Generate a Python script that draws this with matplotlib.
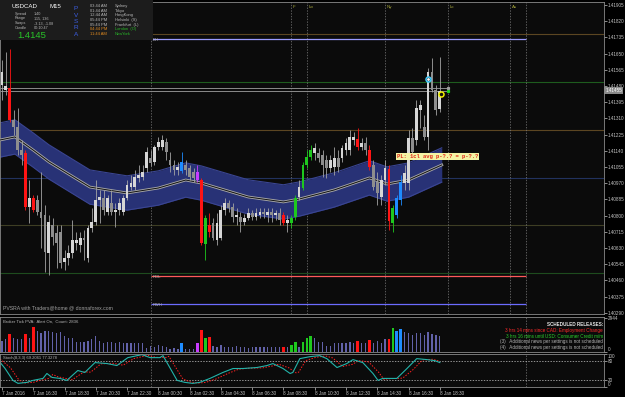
import matplotlib.pyplot as plt
import matplotlib.transforms as mtransforms
from matplotlib.patches import Rectangle
import numpy as np

plt.rcParams["font.family"] = ["Liberation Sans", "DejaVu Sans"]

# USDCAD M15 candles, bar 0 = 7 Jan 14:30
opens = [1.41485, 1.41459, 1.41470, 1.41302, 1.41265, 1.41144, 1.41129, 1.40846, 1.40893, 1.40882,
         1.40819, 1.40804, 1.40604, 1.40751, 1.40709, 1.40714, 1.40557, 1.40578, 1.40604, 1.40657,
         1.40646, 1.40683, 1.40578, 1.40735, 1.40767, 1.40882, 1.40893, 1.40819, 1.40866, 1.40819,
         1.40830, 1.40819, 1.40893, 1.40950, 1.40950, 1.40998, 1.41003, 1.41050, 1.41102, 1.41082,
         1.41160, 1.41160, 1.41186, 1.41092, 1.41066, 1.41040, 1.41034, 1.41066, 1.41050, 1.41029,
         1.41029, 1.40987, 1.40651, 1.40751, 1.40762, 1.40672, 1.40683, 1.40830, 1.40866, 1.40846,
         1.40793, 1.40793, 1.40767, 1.40788, 1.40814, 1.40793, 1.40804, 1.40819, 1.40804, 1.40819,
         1.40804, 1.40814, 1.40804, 1.40762, 1.40762, 1.40793, 1.40898, 1.40945, 1.41066, 1.41108,
         1.41129, 1.41129, 1.41118, 1.41092, 1.41050, 1.41055, 1.41102, 1.41102, 1.41144, 1.41144,
         1.41197, 1.41202, 1.41160, 1.41181, 1.41144, 1.41066, 1.40977, 1.40898, 1.40987, 1.41045,
         1.40762, 1.40804, 1.40882, 1.40971, 1.40971, 1.41207, 1.41197, 1.41354, 1.41265, 1.41213,
         1.41553, 1.41459, 1.41359]
highs = [1.41616, 1.41658, 1.41674, 1.41354, 1.41365, 1.41197, 1.41144, 1.40987, 1.40908, 1.40908,
         1.41029, 1.40856, 1.40804, 1.40788, 1.40751, 1.40751, 1.40620, 1.40646, 1.40777, 1.40714,
         1.40714, 1.40725, 1.40751, 1.40840, 1.40987, 1.40935, 1.40935, 1.40908, 1.40935, 1.40866,
         1.40893, 1.40908, 1.40987, 1.41013, 1.41040, 1.41066, 1.41066, 1.41160, 1.41144, 1.41171,
         1.41213, 1.41223, 1.41207, 1.41134, 1.41092, 1.41082, 1.41134, 1.41092, 1.41066, 1.41050,
         1.41066, 1.40998, 1.40804, 1.40814, 1.40788, 1.40814, 1.40856, 1.40893, 1.40882, 1.40866,
         1.40840, 1.40819, 1.40809, 1.40840, 1.40830, 1.40840, 1.40840, 1.40840, 1.40840, 1.40840,
         1.40830, 1.40840, 1.40819, 1.40804, 1.40804, 1.40908, 1.40987, 1.41082, 1.41144, 1.41171,
         1.41181, 1.41155, 1.41144, 1.41118, 1.41118, 1.41160, 1.41144, 1.41171, 1.41207, 1.41249,
         1.41239, 1.41260, 1.41207, 1.41213, 1.41171, 1.41092, 1.41029, 1.41013, 1.41092, 1.41066,
         1.40856, 1.40908, 1.41013, 1.41066, 1.41249, 1.41260, 1.41407, 1.41407, 1.41328, 1.41574,
         1.41627, 1.41485, 1.41632]
lows = [1.41407, 1.41433, 1.41291, 1.41223, 1.41118, 1.41066, 1.40830, 1.40762, 1.40819, 1.40804,
        1.40631, 1.40505, 1.40489, 1.40646, 1.40526, 1.40526, 1.40515, 1.40541, 1.40578, 1.40620,
        1.40610, 1.40568, 1.40557, 1.40714, 1.40751, 1.40762, 1.40804, 1.40804, 1.40804, 1.40741,
        1.40804, 1.40804, 1.40882, 1.40935, 1.40935, 1.40977, 1.40987, 1.41029, 1.41061, 1.41066,
        1.41144, 1.41144, 1.41092, 1.41029, 1.41013, 1.41013, 1.41024, 1.41013, 1.40987, 1.40977,
        1.40977, 1.40646, 1.40568, 1.40688, 1.40672, 1.40646, 1.40672, 1.40804, 1.40819, 1.40767,
        1.40751, 1.40714, 1.40751, 1.40777, 1.40777, 1.40777, 1.40788, 1.40788, 1.40767, 1.40767,
        1.40777, 1.40751, 1.40751, 1.40714, 1.40735, 1.40777, 1.40882, 1.40935, 1.41050, 1.41092,
        1.41092, 1.41082, 1.41003, 1.40998, 1.41029, 1.41013, 1.41029, 1.41082, 1.41118, 1.41118,
        1.41171, 1.41144, 1.41144, 1.41118, 1.41040, 1.40935, 1.40856, 1.40856, 1.40961, 1.40725,
        1.40714, 1.40788, 1.40856, 1.40935, 1.40935, 1.41118, 1.41171, 1.41260, 1.41197, 1.41144,
        1.41449, 1.41328, 1.41344]
closes = [1.41553, 1.41480, 1.41302, 1.41265, 1.41144, 1.41118, 1.40846, 1.40893, 1.40830, 1.40819,
          1.40788, 1.40610, 1.40767, 1.40688, 1.40657, 1.40552, 1.40578, 1.40604, 1.40672, 1.40672,
          1.40683, 1.40672, 1.40735, 1.40767, 1.40882, 1.40898, 1.40830, 1.40893, 1.40819, 1.40830,
          1.40866, 1.40893, 1.40961, 1.40971, 1.41003, 1.41013, 1.41029, 1.41134, 1.41076, 1.41160,
          1.41186, 1.41197, 1.41134, 1.41066, 1.41040, 1.41055, 1.41082, 1.41040, 1.41003, 1.40998,
          1.40987, 1.40657, 1.40788, 1.40714, 1.40683, 1.40762, 1.40830, 1.40866, 1.40840, 1.40793,
          1.40804, 1.40767, 1.40788, 1.40814, 1.40793, 1.40814, 1.40819, 1.40809, 1.40819, 1.40804,
          1.40814, 1.40777, 1.40762, 1.40777, 1.40788, 1.40893, 1.40950, 1.41066, 1.41108, 1.41144,
          1.41155, 1.41102, 1.41066, 1.41050, 1.41092, 1.41102, 1.41055, 1.41155, 1.41181, 1.41213,
          1.41213, 1.41160, 1.41181, 1.41144, 1.41055, 1.40950, 1.40919, 1.40987, 1.41050, 1.40772,
          1.40840, 1.40893, 1.40977, 1.41024, 1.41207, 1.41134, 1.41365, 1.41380, 1.41213, 1.41553,
          1.41459, 1.41354, 1.41455]
volumes = [980, 1100, 1560, 1185, 1100, 1100, 1560, 1185, 2190, 1850,
           1675, 1850, 1850, 1730, 1615, 1730, 1385, 1240, 1185, 895,
           895, 895, 980, 1100, 1385, 980, 810, 895, 895, 750,
           895, 810, 810, 810, 810, 810, 750, 320, 520, 460,
           605, 520, 405, 230, 320, 230, 750, 230, 230, 230,
           750, 1905, 1210, 1325, 520, 460, 605, 460, 460, 405,
           520, 405, 430, 380, 420, 400, 430, 390, 410, 400,
           420, 400, 460, 405, 605, 840, 460, 840, 1240, 1385,
           1185, 895, 895, 520, 520, 750, 750, 750, 810, 895,
           810, 950, 750, 750, 1040, 750, 950, 810, 1100, 1125,
           2050, 1820, 1960, 1760, 1675, 1470, 1615, 1615, 1470, 1760,
           1560, 1470, 1385]

# PVSRA candle classes
red_bars = [2, 6, 8, 51, 53, 72, 91, 94, 99]
green_bars = [52, 74, 75, 77, 78, 79, 100]
blue_bars = [46, 101, 102]
magenta_bars = [50]

# moving-average envelope (centre line key points)
band_bar = [-0.5, 3.3, 8, 12, 17, 22.5, 27, 32, 40, 47, 51, 63, 72, 76, 85, 94, 98.5, 104, 112.5]
band_mid = [1.41197, 1.41213, 1.41144, 1.41082, 1.41019, 1.40950, 1.40935, 1.40919, 1.40945,
            1.40987, 1.40971, 1.40898, 1.40872, 1.40887, 1.40935, 1.40998, 1.40966, 1.40987, 1.41066]
band_half = 0.00090

# stochastic %K and signal key points
stoch_bar = [-0.5, 0.8, 2.8, 4.1, 6.4, 7.9, 10.5, 11.5, 12.8, 14.8, 16.6, 19.4, 21.2, 23.8, 26.9,
             29.4, 32.2, 35.8, 37.9, 40.4, 41.2, 44.8, 46.8, 48.8, 50.6, 53.2, 56.5, 59.1, 61.6,
             65.2, 67.8, 69.3, 71.9, 73.7, 74.4, 76.2, 78.8, 81.3, 83.1, 85.7, 88.2, 89.8, 92.3,
             94.9, 96.2, 97.4, 99.7, 101, 103.6, 106.1, 108.7, 110.7, 112]
stoch_k = [75, 56, 20, 11, 14, 20, 26, 41, 29, 26, 20, 50, 44, 74, 71,
           65, 89, 98, 89, 89, 95, 20, 14, 11, 14, 26, 44, 56, 56,
           59, 65, 71, 56, 41, 44, 86, 92, 95, 86, 59, 71, 83, 74,
           41, 20, 26, 26, 26, 56, 86, 83, 80, 74]
sig_bar = [-0.5, 2.2, 4.3, 5.6, 8, 9.4, 12, 13, 14.3, 16.3, 18, 21, 22.7, 25.3, 28.4, 31, 33.7,
           37.3, 39.4, 41.9, 42.7, 46.3, 48.3, 50.3, 52.1, 54.7, 58, 60.6, 63.1, 66.7, 69.3, 70.8,
           73.4, 75.2, 75.9, 77.7, 80.3, 82.8, 84.6, 87.2, 89.7, 91.3, 93.8, 96.4, 97.7, 98.9,
           101.2, 102.5, 105.1, 107.6, 110.2, 112]
sig_d = [85, 58, 22, 12, 14, 19, 26, 38, 31, 26, 22, 46, 45, 70, 72, 66, 86,
         96, 90, 89, 93, 24, 15, 12, 14, 24, 42, 54, 57, 58, 64, 69,
         58, 43, 45, 80, 90, 94, 88, 62, 69, 80, 76, 44, 23, 25,
         26, 27, 52, 82, 84, 78]

# horizontal levels
full_levels = [1.41753, 1.41501, 1.41249, 1.40998, 1.40751, 1.40499]
full_colors = ["#5c4622", "#1e5c1e", "#5c4622", "#22325e", "#3e3e24", "#1e4c1e"]
pivot_levels = [1.41727, 1.40484, 1.40337]
pivot_names = ["DH", "RDL", "RWH"]
pivot_colors = ["#9c9cff", "#ff5a5a", "#6c6cff"]
bid, ask = 1.41455, 1.41470

session_bars = [74, 78, 98, 114, 130]
session_names = ["F", "Lo", "Ny", "Lc", "As"]
day_bars = [38, 134]

time_ticks = [0, 8, 16, 24, 32, 40, 48, 56, 64, 72, 80, 88, 96, 104, 112]
time_labels = ["7 Jan 2016", "7 Jan 16:30", "7 Jan 18:30", "7 Jan 20:30", "7 Jan 22:30",
               "8 Jan 00:30", "8 Jan 02:30", "8 Jan 04:30", "8 Jan 06:30", "8 Jan 08:30",
               "8 Jan 10:30", "8 Jan 12:30", "8 Jan 14:30", "8 Jan 16:30", "8 Jan 18:30"]
price_ticks = [round(1.40290 + k * 0.00085, 5) for k in range(20)]

BG = "#0b0b0b"
FG = "#c4c4c4"
GRID = "#7c7c7c"
W, H = 625, 397

fig = plt.figure(figsize=(6.25, 3.97), dpi=100, facecolor="#000000")


def box(x0, y0, x1, y1):
    return [x0 / W, 1 - y1 / H, (x1 - x0) / W, (y1 - y0) / H]


def ftext(x, y, s, **kw):
    kw.setdefault("color", FG)
    kw.setdefault("va", "center")
    kw.setdefault("zorder", 10)
    fig.text(x / W, 1 - y / H, s, **kw)


ax = fig.add_axes(box(0, 2, 604, 314))
axv = fig.add_axes(box(0, 317, 604, 352))
axs = fig.add_axes(box(0, 354, 604, 387))

for a in (ax, axv, axs):
    a.set_facecolor(BG)
    a.set_xlim(-0.5, 154)
    for s in a.spines.values():
        s.set_color("#8a8a8a")
        s.set_linewidth(0.6)
    a.tick_params(axis="x", bottom=False, labelbottom=False)
    a.yaxis.tick_right()
    a.tick_params(axis="y", colors=FG, length=2, width=0.5, pad=1, labelsize=3.3)

# ---------------- main price panel ----------------
ax.set_ylim(1.40284, 1.41921)
ax.set_yticks(price_ticks)
ax.set_yticklabels([f"{p:.5f}" for p in price_ticks])

for p, c in zip(full_levels, full_colors):
    ax.axhline(p, color=c, lw=0.8, zorder=1)
for p, name, c in zip(pivot_levels, pivot_names, pivot_colors):
    ax.hlines(p, day_bars[0], day_bars[1], color=c, lw=0.9, zorder=2)
    ax.text(day_bars[0] + 0.5, p - 0.00008, name, color="#b8b8b8", fontsize=3.0,
            va="center", ha="left")
ax.hlines([ask, bid], -0.5, 114, color="#8c8c8c", lw=0.7, zorder=2)

for b in session_bars + day_bars:
    ax.axvline(b, color=GRID, lw=0.5, ls=(0, (2, 2)), zorder=1)
for b in day_bars:
    axv.axvline(b, color=GRID, lw=0.5, ls=(0, (2, 2)), zorder=1)
    axs.axvline(b, color=GRID, lw=0.5, ls=(0, (2, 2)), zorder=1)
for b, name in zip(session_bars, session_names):
    ax.text(b + 0.4, 0.99, name, transform=ax.get_xaxis_transform(), color="#a8a83c",
            fontsize=3.2, va="top", ha="left")

bb = np.array(band_bar)
bm = np.array(band_mid)
ax.fill_between(bb, bm - band_half, bm + band_half, color="#283276", lw=0, zorder=2)
ax.plot(bb, bm + band_half, color="#3a4592", lw=0.8, zorder=2)
ax.plot(bb, bm - band_half, color="#3a4592", lw=0.8, zorder=2)
ax.plot(bb, bm, color="#a8a8a8", lw=2.0, zorder=3)
ax.plot(bb, bm, color="#111111", lw=0.7, zorder=3)

special = {}
for i in red_bars:
    special[i] = "#ff1414"
for i in green_bars:
    special[i] = "#1ec81e"
for i in blue_bars:
    special[i] = "#1e8cff"
for i in magenta_bars:
    special[i] = "#c83cff"

for i in range(len(opens)):
    o, h, l, c = opens[i], highs[i], lows[i], closes[i]
    col = special.get(i, "#d6d6d6" if c >= o else "#8e8e8e")
    wick = col if i in special else "#a4a4a4"
    ax.vlines(i, l, h, color=wick, lw=0.6, zorder=4)
    ax.bar(i, max(abs(c - o), 0.00003), bottom=min(o, c), width=0.72, color=col,
           lw=0, zorder=5)

# entry marks and bid/ask ticks
ax.plot([109], [1.41517], "o", ms=3.6, mfc="#111111", mec="#40c8f8", mew=1.1, zorder=7)
ax.plot([109], [1.41517], "o", ms=1.0, color="white", zorder=8)
ax.plot([112.3], [1.41438], "o", ms=3.6, mfc="#111111", mec="#f0f000", mew=1.1, zorder=7)
ax.plot([114], [ask], "s", ms=1.3, color="#a0a0a0", zorder=7)
ax.plot([114], [bid], "s", ms=1.3, color="#20d020", zorder=7)

ax.text(101, 1.41110, "PL: 1cl avg p-?.? = p-?.?", fontsize=4.0, color="#e02818",
        family=["Liberation Mono", "DejaVu Sans Mono"], weight="bold", va="center", ha="left",
        zorder=9, bbox=dict(boxstyle="square,pad=0.15", fc="#f4f4a4", ec="none"))

ax.text(1.002, bid, f"{bid:.5f}", transform=ax.get_yaxis_transform(), fontsize=3.3,
        color="white", va="center", ha="left", zorder=9,
        bbox=dict(boxstyle="square,pad=0.25", fc="#8a8a8a", ec="none"))
ax.text(0.005, 0.012, "PVSRA with Traders@home @ donnaforex.com", transform=ax.transAxes,
        color="#a0a0a0", fontsize=3.7, va="bottom", ha="left")

# ---------------- volume panel ----------------
axv.set_ylim(0, 3030)
axv.set_yticks([0, 2944])
axv.set_yticklabels(["0", "2944"])
vlabels = axv.get_yticklabels()
vlabels[0].set_va("bottom")
for i, v in enumerate(volumes):
    if i in special:
        axv.bar(i, v, width=0.7, color=special[i], lw=0)
    else:
        axv.bar(i, v, width=0.32, color="#6262aa", lw=0)
axv.text(0.005, 0.88, "Broker Tick PVA:  Alert On,  Count: 2836", transform=axv.transAxes,
         color="#b4b4b4", fontsize=3.1, va="center", ha="left")
news = [("SCHEDULED RELEASES:", "#e8e8e8", "bold"),
        ("3 hrs 14 mins since CAD: Employment Change", "#ff2a2a", "normal"),
        ("3 hrs 16 mins until USD: Consumer Credit m/m", "#2ad02a", "normal"),
        ("(3)   Additional news per settings is not scheduled", "#b4b4b4", "normal"),
        ("(4)   Additional news per settings is not scheduled", "#b4b4b4", "normal")]
for k, (s, c, w) in enumerate(news):
    ftext(603, 325 + k * 5.5, s, color=c, fontsize=3.3, weight=w, ha="right")

# ---------------- stochastic panel ----------------
axs.set_ylim(0, 100)
axs.set_yticks([0, 20, 80, 100])
axs.set_yticklabels(["0", "20", "80", "100"])
slabels = axs.get_yticklabels()
slabels[0].set_va("bottom")
slabels[3].set_va("top")
for lv in (20, 80):
    axs.axhline(lv, color="#c8c8c8", lw=0.5, ls=(0, (2, 2)))
axs.plot(sig_bar, sig_d, color="#ff2020", lw=0.7, ls=(0, (1.5, 1.5)))
axs.plot(stoch_bar, stoch_k, color="#22b4aa", lw=0.8)
axs.text(0.005, 0.88, "Stoch(8,3,3) 69.2061 77.3278", transform=axs.transAxes,
         color="#b4b4b4", fontsize=3.0, va="center", ha="left")

axs.set_xticks(time_ticks)
axs.set_xticklabels(time_labels)
axs.tick_params(axis="x", bottom=True, labelbottom=True, colors=FG, length=2, width=0.5,
                pad=1.2, labelsize=3.3)
for t in axs.get_xticklabels():
    t.set_ha("left")

# ---------------- info box ----------------
fig.patches.append(Rectangle((0, 1 - 40 / H), 153 / W, 40 / H, transform=fig.transFigure,
                             facecolor="#1c1c1c", edgecolor="none", zorder=5))
ftext(12, 6.5, "USDCAD", color="white", fontsize=4.4)
ftext(49, 6.5, "M15", color="white", fontsize=4.4)
info_rows = [("Spread", "1.40"), ("Range", "115, 136"), ("Swaps", "-3.13, -1.08"),
             ("Candle", "00:10:47")]
for k, (lab, val) in enumerate(info_rows):
    ftext(15, 13.6 + k * 4.8, lab, color="#b8b8b8", fontsize=2.7)
    ftext(34, 13.6 + k * 4.8, val, color="#b8b8b8", fontsize=2.7)
ftext(17, 36, "1.4145", color="#28c428", fontsize=6.8)
for k, ch in enumerate("PVSRA"):
    ftext(76, 9 + k * 6.3, ch, color="#3c5ee4", fontsize=4.6, ha="center")
sessions = [("03:44 AM", "Sydney"), ("01:44 AM", "Tokyo"), ("12:44 AM", "HongKong"),
            ("05:44 PM", "Helsinki  (S)"), ("05:44 PM", "Frankfurt  (L)"),
            ("04:44 PM", "London  (O)"), ("11:44 AM", "NewYork")]
for k, (tm, city) in enumerate(sessions):
    open_now = k >= 5
    ftext(90, 6 + k * 4.65, tm, color="#e08a20" if open_now else "#b8b8b8", fontsize=2.9)
    ftext(115, 6 + k * 4.65, city, color="#28b828" if open_now else "#b8b8b8", fontsize=2.9)

fig.savefig("out.png", dpi=100, facecolor=fig.get_facecolor())
